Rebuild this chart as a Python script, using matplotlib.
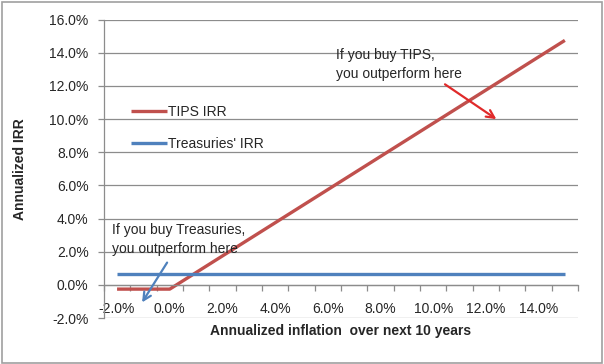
import matplotlib
matplotlib.use("Agg")
import matplotlib.pyplot as plt
from matplotlib.patches import Rectangle
from matplotlib.ticker import FixedLocator, FuncFormatter

plt.rcParams['font.family'] = ['Liberation Sans', 'DejaVu Sans']

inflation = [-2, -1, 0, 1, 2, 3, 4, 5, 6, 7, 8, 9, 10, 11, 12, 13, 14, 15]
tips_irr = [-0.25, -0.25, -0.25, 0.75, 1.75, 2.75, 3.75, 4.75, 5.75, 6.75,
            7.75, 8.75, 9.75, 10.75, 11.75, 12.75, 13.75, 14.75]
treasuries_irr = [0.65] * len(inflation)
x_tick_labels = [-2, 0, 2, 4, 6, 8, 10, 12, 14]
y_ticks = [-2, 0, 2, 4, 6, 8, 10, 12, 14, 16]

fig = plt.figure(figsize=(6.04, 3.64), dpi=100)
ax = fig.add_axes([0.172, 0.126, 0.785, 0.82])

tips_color = '#C0504D'
tr_color = '#4F81BD'
txt = '#262626'
grid = '#8c8c8c'

ax.plot(inflation, tips_irr, color=tips_color, lw=2.4, label='TIPS IRR', solid_capstyle='butt')
ax.plot(inflation, treasuries_irr, color=tr_color, lw=2.4, label="Treasuries' IRR", solid_capstyle='butt')

ax.set_xlim(-2.5, 15.5)
ax.set_ylim(-2, 16)

ax.set_yticks(y_ticks)
ax.yaxis.set_major_formatter(FuncFormatter(lambda v, p: f"{v:.1f}%"))
ax.grid(axis='y', color=grid, lw=0.9)
ax.set_axisbelow(True)

ax.xaxis.set_major_locator(FixedLocator(x_tick_labels))
ax.xaxis.set_major_formatter(FuncFormatter(lambda v, p: f"{v:.1f}%"))
ax.xaxis.set_minor_locator(FixedLocator([i + 0.5 for i in range(-3, 16)]))
ax.tick_params(axis='x', which='major', length=0, pad=12, labelsize=10, labelcolor=txt)
ax.tick_params(axis='x', which='minor', length=4, width=0.9, color=grid, direction='out')
ax.tick_params(axis='y', length=4, width=0.9, color=grid, labelsize=10, labelcolor=txt, pad=7)

for s in ['top', 'right']:
    ax.spines[s].set_visible(False)
ax.spines['bottom'].set_position(('data', 0))
for s in ['bottom', 'left']:
    ax.spines[s].set_color(grid)
    ax.spines[s].set_linewidth(0.9)

ax.set_ylabel('Annualized IRR', fontsize=10, fontweight='bold', color=txt, labelpad=16)
ax.set_xlabel('Annualized inflation  over next 10 years', fontsize=10, fontweight='bold',
              color=txt, labelpad=6)

leg = ax.legend(loc='upper left', bbox_to_anchor=(0.03, 0.755), frameon=False,
                handlelength=2.6, handletextpad=0.1, labelspacing=1.3, fontsize=10)
for t in leg.get_texts():
    t.set_color(txt)

ax.text(6.3, 14.3, 'If you buy TIPS,\nyou outperform here', fontsize=10, color=txt,
        va='top', ha='left', linespacing=1.45)
ax.annotate('', xy=(12.4, 10.0), xytext=(10.45, 12.1),
            arrowprops=dict(arrowstyle='->', color='#E02A2A', lw=1.6, shrinkA=0, shrinkB=0,
                            mutation_scale=14))

ax.text(-2.2, 3.75, 'If you buy Treasuries,\nyou outperform here', fontsize=10, color=txt,
        va='top', ha='left', linespacing=1.45)
ax.annotate('', xy=(-1.05, -1.05), xytext=(-0.1, 1.35),
            arrowprops=dict(arrowstyle='->', color=tr_color, lw=1.6, shrinkA=0, shrinkB=0,
                            mutation_scale=14))

fig.patches.append(Rectangle((0.004, 0.004), 0.992, 0.99, transform=fig.transFigure,
                             fill=False, edgecolor='#a0a0a0', lw=1.2))

fig.savefig('out.png', dpi=100)
